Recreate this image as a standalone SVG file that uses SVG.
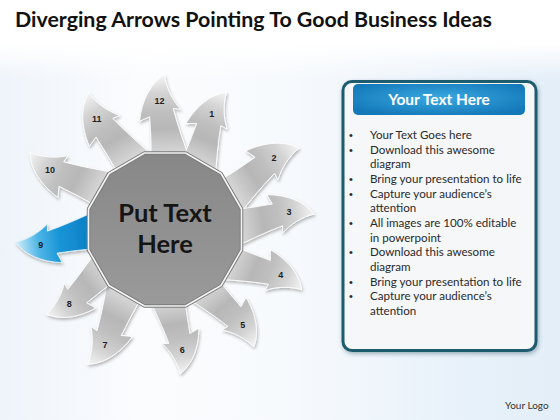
<svg xmlns="http://www.w3.org/2000/svg" xmlns:xlink="http://www.w3.org/1999/xlink" width="560" height="420" viewBox="0 0 560 420">
  <defs>
    <linearGradient id="bgH" x1="0" y1="0" x2="1" y2="0">
      <stop offset="0" stop-color="#eef4fa"/>
      <stop offset="0.25" stop-color="#fbfcfe"/>
      <stop offset="0.5" stop-color="#f7fafd"/>
      <stop offset="0.8" stop-color="#e9f2fa"/>
      <stop offset="1" stop-color="#e3eef8"/>
    </linearGradient>
    <linearGradient id="bgTop" x1="0" y1="0" x2="0" y2="1">
      <stop offset="0" stop-color="#ffffff" stop-opacity="1"/>
      <stop offset="0.55" stop-color="#ffffff" stop-opacity="1"/>
      <stop offset="1" stop-color="#ffffff" stop-opacity="0"/>
    </linearGradient>
    <linearGradient id="grayArr" gradientUnits="userSpaceOnUse" x1="70" y1="0" x2="150" y2="0">
      <stop offset="0" stop-color="#dcdcdc"/>
      <stop offset="0.35" stop-color="#b7b7b7"/>
      <stop offset="0.55" stop-color="#bfbfbf"/>
      <stop offset="0.78" stop-color="#d4d4d4"/>
      <stop offset="1" stop-color="#f5f5f5"/>
    </linearGradient>
    <linearGradient id="blueArr" gradientUnits="userSpaceOnUse" x1="70" y1="0" x2="150" y2="0">
      <stop offset="0" stop-color="#0a7cc2"/>
      <stop offset="0.45" stop-color="#1995d7"/>
      <stop offset="0.72" stop-color="#4fb5e6"/>
      <stop offset="1" stop-color="#d2effb"/>
    </linearGradient>
    <linearGradient id="hubFill" x1="0" y1="0" x2="0" y2="1">
      <stop offset="0" stop-color="#878787"/>
      <stop offset="1" stop-color="#9a9a9a"/>
    </linearGradient>
    <radialGradient id="hdrFill" cx="0.5" cy="0.45" r="0.6">
      <stop offset="0" stop-color="#3aa9e1"/>
      <stop offset="1" stop-color="#1479b9"/>
    </radialGradient>
    <filter id="sh" x="-20%" y="-20%" width="140%" height="140%">
      <feDropShadow dx="1" dy="2" stdDeviation="1.6" flood-color="#000" flood-opacity="0.28"/>
    </filter>
    <filter id="psh" x="-10%" y="-10%" width="120%" height="120%">
      <feDropShadow dx="1" dy="2" stdDeviation="2" flood-color="#0d3340" flood-opacity="0.35"/>
    </filter>
    <path id="arrowShape" d="M 64,-11 C 84,-9 100,-10 110,-10 L 106,-20 C 126,-17 142,-8 150,6 C 138,7 126,12 116,20 L 117,13 C 98,17 80,23 64,28 Z"/>
    <style>
      .arr { fill: url(#grayArr); stroke: #ffffff; stroke-width: 0.8; }
      .arrBlue { fill: url(#blueArr); stroke: #e8f6fd; stroke-width: 0.8; }
      .num { font-family: "Liberation Sans", Arial, sans-serif; font-weight: bold; font-size: 9px; fill: #1e1e1e; text-anchor: middle; }
      .body { font-family: Lato, "Liberation Sans", sans-serif; font-size: 11.6px; fill: #2a2a2a; }
      .bul { font-family: "Liberation Sans", Arial, sans-serif; font-size: 11px; fill: #2a2a2a; text-anchor: middle; }
    </style>
  </defs>

  <!-- background -->
  <rect x="0" y="0" width="560" height="420" fill="url(#bgH)"/>
  <rect x="0" y="0" width="560" height="80" fill="url(#bgTop)"/>

  <!-- title -->
  <text x="15" y="27" font-family="Lato, 'Liberation Sans', sans-serif" font-weight="bold" font-size="21" fill="#111111" textLength="477" lengthAdjust="spacingAndGlyphs">Diverging Arrows Pointing To Good Business Ideas</text>

  <!-- arrows -->
  <g id="arrows">
    <g id="arrow-12"><g filter="url(#sh)"><use xlink:href="#arrowShape" class="arr" transform="translate(165 230) rotate(-92.5) scale(1.035)"/></g><text class="num" x="159.5" y="104">12</text></g>
    <g id="arrow-1"><g filter="url(#sh)"><use xlink:href="#arrowShape" class="arr" transform="translate(165 230) rotate(-68.2) scale(1.006)"/></g><text class="num" x="211.7" y="116.5">1</text></g>
    <g id="arrow-2"><g filter="url(#sh)"><use xlink:href="#arrowShape" class="arr" transform="translate(165 230) rotate(-33.7) scale(1.048)"/></g><text class="num" x="274" y="160.5">2</text></g>
    <g id="arrow-3"><g filter="url(#sh)"><use xlink:href="#arrowShape" class="arr" transform="translate(165 230) rotate(-8.4) scale(1)"/></g><text class="num" x="289" y="215">3</text></g>
    <g id="arrow-4"><g filter="url(#sh)"><use xlink:href="#arrowShape" class="arr" transform="translate(165 230) rotate(21.3) scale(0.993)"/></g><text class="num" x="280.7" y="278">4</text></g>
    <g id="arrow-5"><g filter="url(#sh)"><use xlink:href="#arrowShape" class="arr" transform="translate(165 230) rotate(50.5) scale(0.978)"/></g><text class="num" x="242.7" y="327.5">5</text></g>
    <g id="arrow-6"><g filter="url(#sh)"><use xlink:href="#arrowShape" class="arr" transform="translate(165 230) rotate(81.7) scale(0.964)"/></g><text class="num" x="182.3" y="352.5">6</text></g>
    <g id="arrow-7"><g filter="url(#sh)"><use xlink:href="#arrowShape" class="arr" transform="translate(165 230) rotate(117.7) scale(1.033)"/></g><text class="num" x="105" y="347.5">7</text></g>
    <g id="arrow-8"><g filter="url(#sh)"><use xlink:href="#arrowShape" class="arr" transform="translate(165 230) rotate(142.3) scale(0.968)"/></g><text class="num" x="69.3" y="307">8</text></g>
    <g id="arrow-9"><g filter="url(#sh)"><use xlink:href="#arrowShape" class="arrBlue" transform="translate(165 230) rotate(173.1) scale(1)"/></g><text class="num" x="40.7" y="248">9</text></g>
    <g id="arrow-10"><g filter="url(#sh)"><use xlink:href="#arrowShape" class="arr" transform="translate(165 230) rotate(207.6) scale(1.038)"/></g><text class="num" x="50" y="173">10</text></g>
    <g id="arrow-11"><g filter="url(#sh)"><use xlink:href="#arrowShape" class="arr" transform="translate(165 230) rotate(238.6) scale(1.047)"/></g><text class="num" x="96.7" y="121.5">11</text></g>
  </g>

  <!-- central hub -->
  <g id="hub">
    <polygon points="241.5,250 221,285.5 185.5,306 144.5,306 109,285.5 88.5,250 88.5,209 109,173.5 144.5,153 185.5,153 221,173.5 241.5,209" fill="url(#hubFill)" stroke="#7a7a7a" stroke-width="3.5" stroke-linejoin="round"/>
    <polygon points="241.5,250 221,285.5 185.5,306 144.5,306 109,285.5 88.5,250 88.5,209 109,173.5 144.5,153 185.5,153 221,173.5 241.5,209" fill="none" stroke="#f4f4f4" stroke-width="1.6" stroke-linejoin="round"/>
    <text x="165" y="222" font-family="Lato, 'Liberation Sans', sans-serif" font-weight="bold" font-size="25.5" fill="#151515" text-anchor="middle">Put Text</text>
    <text x="165" y="253" font-family="Lato, 'Liberation Sans', sans-serif" font-weight="bold" font-size="25.5" fill="#151515" text-anchor="middle">Here</text>
  </g>

  <!-- text panel -->
  <g id="panel">
    <rect x="343" y="81.5" width="193" height="269" rx="9" fill="#f6f7f9" stroke="#1f5b6e" stroke-width="3" filter="url(#psh)"/>
    <rect x="353" y="84" width="172" height="31" rx="5" fill="url(#hdrFill)"/>
    <text x="439" y="104.5" font-family="Lato, 'Liberation Sans', sans-serif" font-weight="bold" font-size="15.5" fill="#ffffff" text-anchor="middle">Your Text Here</text>
    <g class="body">
      <text class="bul" x="351" y="139">•</text><text x="370" y="139">Your Text Goes here</text>
      <text class="bul" x="351" y="153.7">•</text><text x="370" y="153.7">Download this awesome</text>
      <text x="370" y="168.3">diagram</text>
      <text class="bul" x="351" y="183">•</text><text x="370" y="183">Bring your presentation to life</text>
      <text class="bul" x="351" y="197.6">•</text><text x="370" y="197.6">Capture your audience’s</text>
      <text x="370" y="212.3">attention</text>
      <text class="bul" x="351" y="227">•</text><text x="370" y="227">All images are 100% editable</text>
      <text x="370" y="241.6">in powerpoint</text>
      <text class="bul" x="351" y="256.3">•</text><text x="370" y="256.3">Download this awesome</text>
      <text x="370" y="271">diagram</text>
      <text class="bul" x="351" y="285.6">•</text><text x="370" y="285.6">Bring your presentation to life</text>
      <text class="bul" x="351" y="300.3">•</text><text x="370" y="300.3">Capture your audience’s</text>
      <text x="370" y="315">attention</text>
    </g>
  </g>

  <text x="505" y="409" font-family="Lato, 'Liberation Sans', sans-serif" font-size="10" fill="#333333">Your Logo</text>
</svg>
